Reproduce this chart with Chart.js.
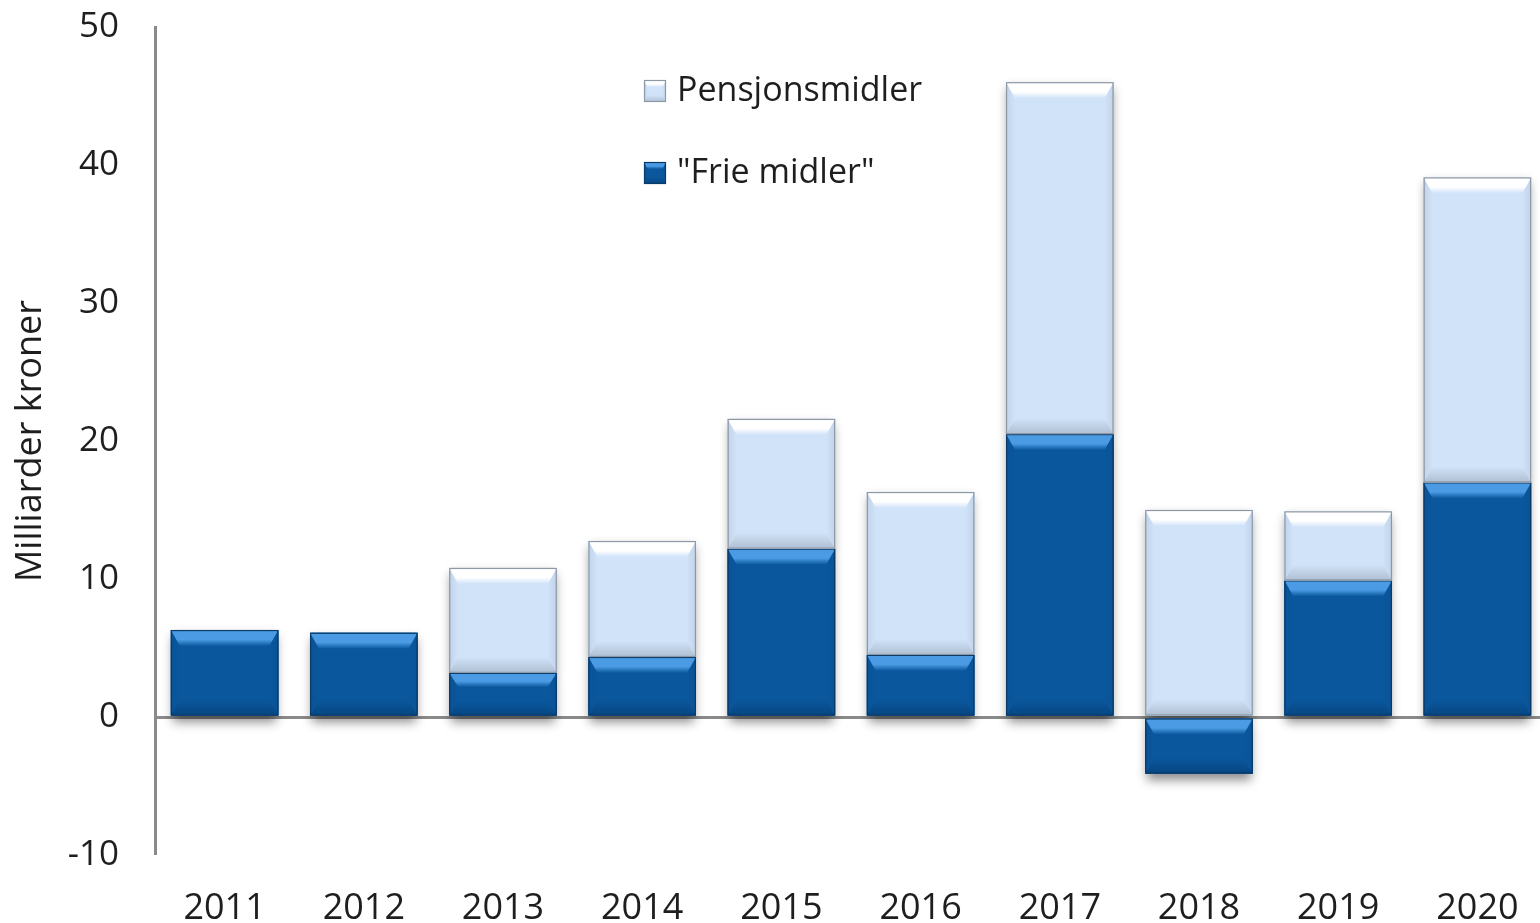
<!DOCTYPE html>
<html>
<head>
<meta charset="utf-8">
<script src="https://cdn.jsdelivr.net/npm/chart.js@4"></script>
<style>
html,body{margin:0;padding:0;background:#fff;overflow:hidden;}
#wrap{width:1550px;height:923px;}
</style>
</head>
<body>
<div id="wrap"><canvas id="c" width="1550" height="923"></canvas></div>
<script>
const years = ['2011','2012','2013','2014','2015','2016','2017','2018','2019','2020'];
const frieMidler = [6.3, 6.1, 3.2, 4.35, 12.2, 4.5, 20.5, -4.1, 9.9, 17.0];
const pensjonsmidler = [null, null, 7.6, 8.4, 9.4, 11.8, 25.5, 15.0, 5.0, 22.1];
const yTicks = [-10, 0, 10, 20, 30, 40, 50];
const yTitle = 'Milliarder kroner';
const legendLabels = ['Pensjonsmidler', '"Frie midler"'];

const FONT = '"Open Sans", sans-serif';

const styles = {
  dark:  {main:'#0a579d', top:'#4a9be3', bottom:'#064682', side:'#0b5296', border:'#0a3a66'},
  light: {main:'#d0e3f9', top:'#ffffff', bottom:'#b0bfd2', side:'#c2d3e8', border:'#8d98a6'}
};

function drawBevel(ctx, x0, x1, yTop, yBot, s, bmax) {
  const h = yBot - yTop;
  if (h < 1) return;
  const b = Math.min(bmax || 16, h / 3);
  const sb = Math.min(bmax ? bmax / 2 : 9, (x1 - x0) / 4);
  ctx.save();
  ctx.fillStyle = s.main;
  ctx.fillRect(x0, yTop, x1 - x0, h);
  const gl = ctx.createLinearGradient(x0, 0, x0 + sb, 0);
  gl.addColorStop(0, s.side); gl.addColorStop(1, s.main);
  ctx.fillStyle = gl;
  ctx.beginPath(); ctx.moveTo(x0, yTop); ctx.lineTo(x0 + sb, yTop + b); ctx.lineTo(x0 + sb, yBot - b); ctx.lineTo(x0, yBot); ctx.closePath(); ctx.fill();
  const gr = ctx.createLinearGradient(x1, 0, x1 - sb, 0);
  gr.addColorStop(0, s.side); gr.addColorStop(1, s.main);
  ctx.fillStyle = gr;
  ctx.beginPath(); ctx.moveTo(x1, yTop); ctx.lineTo(x1 - sb, yTop + b); ctx.lineTo(x1 - sb, yBot - b); ctx.lineTo(x1, yBot); ctx.closePath(); ctx.fill();
  const g = ctx.createLinearGradient(0, yTop, 0, yTop + b);
  g.addColorStop(0, s.top); g.addColorStop(0.6, s.top); g.addColorStop(1, s.main);
  ctx.fillStyle = g;
  ctx.beginPath(); ctx.moveTo(x0, yTop); ctx.lineTo(x1, yTop); ctx.lineTo(x1 - sb, yTop + b); ctx.lineTo(x0 + sb, yTop + b); ctx.closePath(); ctx.fill();
  const g2 = ctx.createLinearGradient(0, yBot - b, 0, yBot);
  g2.addColorStop(0, s.main); g2.addColorStop(1, s.bottom);
  ctx.fillStyle = g2;
  ctx.beginPath(); ctx.moveTo(x0, yBot); ctx.lineTo(x1, yBot); ctx.lineTo(x1 - sb, yBot - b); ctx.lineTo(x0 + sb, yBot - b); ctx.closePath(); ctx.fill();
  ctx.strokeStyle = s.border; ctx.lineWidth = 1.2;
  ctx.strokeRect(x0 + 0.5, yTop + 0.5, x1 - x0 - 1, h - 1);
  ctx.restore();
}

const bevelPlugin = {
  id: 'bevel',
  beforeDatasetsDraw(chart) {
    const ctx = chart.ctx;
    chart.data.datasets.forEach((ds, i) => {
      const meta = chart.getDatasetMeta(i);
      meta.data.forEach((el, j) => {
        if (ds.data[j] == null) return;
        const p = el.getProps(['x','y','base','width'], true);
        const yTop = Math.min(p.y, p.base), yBot = Math.max(p.y, p.base);
        ctx.save();
        ctx.shadowColor = 'rgba(0,0,0,0.45)';
        ctx.shadowBlur = 10;
        ctx.shadowOffsetY = 6;
        ctx.fillStyle = '#888';
        ctx.fillRect(p.x - p.width/2 + 2, yTop, p.width - 4, yBot - yTop);
        ctx.restore();
      });
    });
  },
  afterDatasetsDraw(chart) {
    const ctx = chart.ctx;
    chart.data.datasets.forEach((ds, i) => {
      const meta = chart.getDatasetMeta(i);
      const s = styles[ds.bevelStyle];
      meta.data.forEach((el, j) => {
        if (ds.data[j] == null) return;
        const p = el.getProps(['x','y','base','width'], true);
        const yTop = Math.min(p.y, p.base), yBot = Math.max(p.y, p.base);
        drawBevel(ctx, p.x - p.width/2, p.x + p.width/2, yTop, yBot, s);
      });
    });
    const items = [
      {text: legendLabels[0], s: styles.light, cy: 91},
      {text: legendLabels[1], s: styles.dark, cy: 173}
    ];
    items.forEach(it => {
      drawBevel(ctx, 644, 666, it.cy - 11, it.cy + 11, it.s, 7);
      ctx.save();
      ctx.fillStyle = '#1e1e1e';
      ctx.font = '34px ' + FONT;
      ctx.textBaseline = 'middle';
      ctx.fillText(it.text, 677, it.cy);
      ctx.restore();
    });
  }
};

new Chart(document.getElementById('c'), {
  type: 'bar',
  data: {
    labels: years,
    datasets: [
      {label: legendLabels[1], data: frieMidler, backgroundColor: styles.dark.main, bevelStyle: 'dark', stack: 's'},
      {label: legendLabels[0], data: pensjonsmidler, backgroundColor: styles.light.main, bevelStyle: 'light', stack: 's'}
    ]
  },
  options: {
    responsive: false,
    animation: false,
    events: [],
    layout: {padding: {top: 27, right: 3, left: 0, bottom: 0}},
    datasets: {bar: {categoryPercentage: 1, barPercentage: 0.772}},
    plugins: {legend: {display: false}, tooltip: {enabled: false}},
    scales: {
      x: {
        stacked: true,
        grid: {display: false},
        border: {display: false},
        ticks: {color: '#1e1e1e', font: {family: FONT, size: 36}, padding: 24, maxRotation: 0},
        afterFit: s => { s.height = 68; s.paddingLeft = 0; s.paddingRight = 0; }
      },
      y: {
        stacked: true,
        min: yTicks[0], max: yTicks[yTicks.length - 1],
        afterBuildTicks: s => { s.ticks = yTicks.map(v => ({value: v})); },
        grid: {
          drawTicks: false,
          color: c => c.tick && c.tick.value === 0 ? '#8a8a8a' : 'rgba(0,0,0,0)',
          lineWidth: c => c.tick && c.tick.value === 0 ? 3 : 0
        },
        border: {display: true, color: '#8a8a8a', width: 3},
        ticks: {color: '#1e1e1e', font: {family: FONT, size: 35}, padding: 36},
        title: {display: true, text: yTitle, color: '#1e1e1e', font: {family: FONT, size: 36}, padding: {top: 9, bottom: 0}},
        afterFit: s => { s.width = 155; s.paddingTop = 0; s.paddingBottom = 0; }
      }
    }
  },
  plugins: [bevelPlugin]
});
</script>
</body>
</html>
